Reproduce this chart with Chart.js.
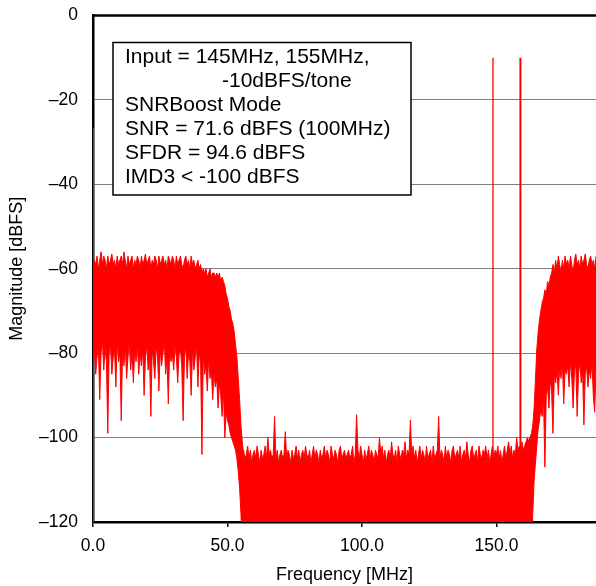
<!DOCTYPE html>
<html>
<head>
<meta charset="utf-8">
<script src="https://cdn.jsdelivr.net/npm/chart.js@4/dist/chart.umd.min.js"></script>
<style>
  body { margin: 0; background: #fff; overflow: hidden; }
  #wrap { width: 596px; height: 586px; }
</style>
</head>
<body>
<div id="wrap"><canvas id="fft" width="596" height="586"></canvas></div>
<script>
// spacing of the FFT bins (MHz)
var binMHz = 0.5;

// left band, 0 .. 56 MHz : peaks and troughs of the noise
var leftStart = 0;
var leftTop = [
  -61,-58,-59,-57,-60,-58,-56,-59,-57,-58,-60,-57,-59,-58,-56.5,-59,-58,-60,-57,-59,
  -58,-57,-59,-56,-58,-60,-57,-59,-58,-57,-60,-58,-59,-57,-58,-60,-57,-59,-58,-56.5,
  -59,-58,-57,-60,-58,-59,-57,-58,-60,-57,-59,-58,-57,-59,-58,-60,-57,-58,-59,-57,
  -58,-60,-57,-59,-58,-57,-59,-60,-58,-57,-59,-58,-60,-57,-59,-58,-60,-59,-58,-60,
  -59,-61,-60,-61,-60,-62,-61,-60,-62,-61,-61,-62,-61,-62,-61,-63,-62,-63,-64,-66,
  -67,-69,-70,-72,-73,-75,-78,-81,-86,-91,-97,-101,-104
];
var leftBottom = [
  -83,-79,-85,-81,-78,-91,-80,-77,-84,-79,-82,-99,-80,-78,-85,-81,-79,-88,-77,-82,
  -80,-96,-79,-83,-78,-86,-81,-77,-84,-80,-87,-79,-82,-78,-85,-80,-83,-79,-90,-81,
  -78,-84,-80,-95,-79,-82,-86,-78,-81,-89,-79,-83,-80,-77,-85,-81,-92,-79,-82,-80,
  -84,-78,-81,-87,-80,-79,-83,-96,-81,-78,-86,-80,-82,-90,-79,-84,-81,-78,-88,-80,
  -82,-104,-80,-85,-83,-89,-81,-86,-84,-91,-85,-88,-86,-93,-87,-90,-95,-89,-100,-94,
  -96,-97,-99,-100,-101,-102,-103,-105,-108,-112,-118,-125,-125
];

// noise floor, 55 .. 163 MHz : top of the floor, filled down to the axis
var floorStart = 55;
var floorTop = [
  -102,-104,-103,-105,-104,-102,-105,-103,-106,-104,-103,-105,-102,-104,-106,-103,-105,-104,-102,-105,
  -100,-104,-103,-105,-104,-95,-105,-103,-106,-104,-103,-105,-104,-98.6,-105,-103,-104,-106,-103,-105,
  -104,-102,-105,-103,-106,-104,-103,-105,-102,-104,-105,-103,-106,-104,-102,-105,-103,-104,-106,-103,
  -105,-104,-102,-105,-103,-104,-106,-102,-104,-105,-103,-104,-106,-103,-102,-105,-104,-103,-105,-104,
  -103,-105,-104,-102,-106,-104,-94.6,-103,-105,-102,-104,-106,-103,-105,-104,-102,-105,-103,-104,-106,
  -103,-104,-105,-100,-104,-102,-105,-103,-106,-104,-103,-105,-101,-104,-105,-103,-106,-102,-104,-105,
  -103,-104,-101,-105,-103,-104,-95.8,-104,-102,-105,-103,-106,-104,-102,-105,-103,-104,-106,-102,-105,
  -104,-103,-106,-102,-105,-104,-103,-95,-105,-103,-104,-106,-102,-105,-103,-104,-106,-103,-102,-105,
  -104,-103,-105,-102,-106,-104,-103,-105,-101,-104,-106,-103,-102,-105,-104,-103,-106,-102,-104,-105,
  -103,-104,-102,-105,-103,-106,-104,-102,-105,-103,-104,-102,-105,-103,-106,-104,-102,-105,-103,-101,
  -104,-102,-105,-103,-104,-100,-103,-102,-104,-101,-103,-102,-101,-100,-101,-99.8,-100
];

// right band, 162 .. 190 MHz
var rightStart = 162;
var rightTop = [
  -101,-100,-99,-97,-93,-86,-79,-75,-72,-70,-68,-67,-65,-66,-63,-64,-62,-61,-59,-61,
  -58,-60,-57,-59,-61,-58,-60,-57,-59,-58,-60,-57,-59,-61,-58,-56.5,-59,-58,-60,-57,
  -59,-58,-56.5,-59,-60,-58,-57,-59,-58,-60,-57,-59,-58,-60,-57,-59,-58
];
var rightBottom = [
  -125,-125,-125,-118,-110,-106,-102,-98,-96,-93,-95,-91,-107,-90,-88,-93,-86,-89,-99,-85,
  -87,-84,-90,-83,-86,-82,-92,-84,-85,-83,-88,-82,-86,-93,-84,-83,-95,-85,-82,-87,
  -84,-97,-85,-83,-88,-84,-86,-82,-90,-94,-84,-86,-83,-89,-85,-84,-87
];

// DC spur and the two input tones
var spikeFreq = [0, 148.7, 158.9];
var spikeLevel = [-26.6, -10, -10];

var freqTicks = [0, 50, 100, 150];
var magTicks = [0, -20, -40, -60, -80, -100, -120];

var noteLines = [
  "Input = 145MHz, 155MHz,",
  "-10dBFS/tone",
  "SNRBoost Mode",
  "SNR = 71.6 dBFS (100MHz)",
  "SFDR = 94.6 dBFS",
  "IMD3 < -100 dBFS"
];

var red = "#ff0000";
var fontFam = '"Liberation Sans", Arial, sans-serif';

function toPoints(start, values)
{
  return values.map(function(v, i) { return { x: start + i * binMHz, y: v }; });
}

function trace(start, values, fill)
{
  return {
    data: toPoints(start, values),
    borderColor: red,
    backgroundColor: red,
    borderWidth: 1,
    pointRadius: 0,
    tension: 0,
    fill: fill
  };
}

var datasets = [
  trace(leftStart, leftTop, "+1"),
  trace(leftStart, leftBottom, false),
  trace(floorStart, floorTop, "start"),
  trace(rightStart, rightTop, "+1"),
  trace(rightStart, rightBottom, false)
];

var spikeWidths = [2, 1.3, 2];
for (var i = 0; i < spikeFreq.length; i++)
{
  datasets.push({
    data: [{ x: spikeFreq[i], y: spikeLevel[i] }, { x: spikeFreq[i], y: -130 }],
    borderColor: red,
    borderWidth: spikeWidths[i],
    pointRadius: 0,
    fill: false
  });
}

// top frame line + the text box
var frame = {
  id: "frame",
  afterDraw: function(chart)
  {
    var ctx = chart.ctx;
    var a = chart.chartArea;
    ctx.save();
    ctx.strokeStyle = "#000";
    ctx.lineWidth = 2.5;
    ctx.beginPath();
    ctx.moveTo(a.left - 1, a.top);
    ctx.lineTo(a.right, a.top);
    ctx.stroke();

    var bx = a.left + 20, by = a.top + 27, bw = 298, bh = 152.5;
    ctx.fillStyle = "#fff";
    ctx.fillRect(bx, by, bw, bh);
    ctx.lineWidth = 1.5;
    ctx.strokeRect(bx, by, bw, bh);

    ctx.fillStyle = "#000";
    ctx.font = "21px " + fontFam;
    ctx.textBaseline = "alphabetic";
    for (var k = 0; k < noteLines.length; k++)
    {
      var tx = (k == 1) ? bx + 109 : bx + 12;
      ctx.fillText(noteLines[k], tx, by + 20 + k * 24);
    }
    ctx.restore();
  }
};

new Chart("fft", {
  type: "line",
  data: { datasets: datasets },
  plugins: [frame],
  options: {
    responsive: false,
    animation: false,
    layout: { padding: { top: 15.5, right: 0, left: 0, bottom: 0 } },
    plugins: {
      legend: { display: false },
      tooltip: { enabled: false }
    },
    scales: {
      x: {
        type: "linear",
        min: 0,
        max: 187,
        afterFit: function(s) { s.height = 64; },
        afterBuildTicks: function(s) { s.ticks = freqTicks.map(function(v) { return { value: v }; }); },
        grid: { drawOnChartArea: false, drawTicks: true, tickLength: 5, color: "#000", lineWidth: 1.5 },
        border: { color: "#000", width: 2.5 },
        ticks: {
          color: "#000",
          font: { family: fontFam, size: 17.5 },
          padding: 9,
          maxRotation: 0,
          autoSkip: false,
          callback: function(v) { return v.toFixed(1); }
        },
        title: {
          display: true,
          text: "Frequency [MHz]",
          color: "#000",
          font: { family: fontFam, size: 18 },
          padding: { top: 0, bottom: 0 }
        }
      },
      y: {
        min: -120,
        max: 0,
        afterFit: function(s) { s.width = 93; s.paddingTop = 0; s.paddingBottom = 0; },
        afterBuildTicks: function(s) { s.ticks = magTicks.map(function(v) { return { value: v }; }); },
        grid: { color: "#808080", lineWidth: 1, drawTicks: false },
        border: { color: "#000", width: 2.5 },
        ticks: {
          color: "#000",
          font: { family: fontFam, size: 17.5 },
          padding: 15,
          callback: function(v) { return v == 0 ? "0" : "\u2013" + Math.abs(v); }
        },
        title: {
          display: true,
          text: "Magnitude [dBFS]",
          color: "#000",
          font: { family: fontFam, size: 18 },
          padding: { top: 6, bottom: 0 }
        }
      }
    }
  }
});
</script>
</body>
</html>
